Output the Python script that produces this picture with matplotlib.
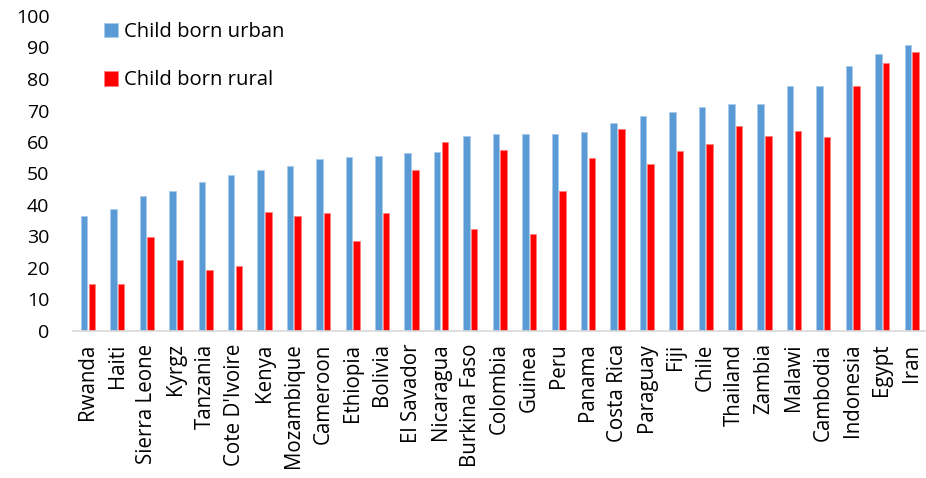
import numpy as np
import matplotlib.pyplot as plt

countries = ['Rwanda', 'Haiti', 'Sierra Leone', 'Kyrgz', 'Tanzania', "Cote D'Ivoire",
             'Kenya', 'Mozambique', 'Cameroon', 'Ethiopia', 'Bolivia', 'El Savador',
             'Nicaragua', 'Burkina Faso', 'Colombia', 'Guinea', 'Peru', 'Panama',
             'Costa Rica', 'Paraguay', 'Fiji', 'Chile', 'Thailand', 'Zambia',
             'Malawi', 'Cambodia', 'Indonesia', 'Egypt', 'Iran']
urban = [36.4, 38.8, 43.0, 44.3, 47.4, 49.6, 51.1, 52.4, 54.5, 55.3, 55.7, 56.6,
         56.9, 61.9, 62.5, 62.6, 62.6, 63.2, 66.1, 68.3, 69.5, 71.0, 72.0, 72.2,
         77.7, 77.9, 84.1, 87.9, 90.8]
rural = [15.0, 15.0, 30.0, 22.6, 19.5, 20.7, 37.8, 36.6, 37.5, 28.5, 37.5, 51.1,
         60.0, 32.4, 57.6, 30.9, 44.3, 55.0, 64.0, 53.0, 57.3, 59.5, 65.1, 62.0,
         63.4, 61.7, 77.7, 85.0, 88.5]

plt.rcParams['font.family'] = ['Open Sans', 'DejaVu Sans']

fig = plt.figure(figsize=(9.26, 4.78), dpi=100)
ax = fig.add_axes([73 / 926, 1 - 331 / 478, 853 / 926, 315 / 478])

x = np.arange(len(countries))
w = 0.22
ax.bar(x - 0.12, urban, w, color='#5B9BD5', edgecolor='#A9CBEA', linewidth=0.6,
       label='Child born urban', zorder=2)
ax.bar(x + 0.14, rural, w, color='#FF0000', edgecolor='#FF8080', linewidth=0.6,
       label='Child born rural', zorder=2)

ax.set_xlim(-0.5, len(countries) - 0.5)
ax.set_ylim(0, 100)
ax.set_yticks(range(0, 101, 10))
ax.set_xticks(x)
ax.set_xticklabels(countries, rotation=90, fontsize=14.8)
ax.tick_params(axis='y', length=0, pad=17, labelsize=14)
ax.tick_params(axis='x', length=0, pad=9)

for s in ['top', 'right', 'left']:
    ax.spines[s].set_visible(False)
ax.spines['bottom'].set_color('#D9D9D9')
ax.spines['bottom'].set_linewidth(1.2)

leg = ax.legend(loc='upper left', bbox_to_anchor=(104 / 926, 1 - 22 / 478),
                bbox_transform=fig.transFigure, frameon=False, fontsize=14.6,
                handlelength=0.7, handleheight=0.75, handletextpad=0.3,
                labelspacing=1.4, borderpad=0, borderaxespad=0)

fig.savefig('out.png', dpi=100)
